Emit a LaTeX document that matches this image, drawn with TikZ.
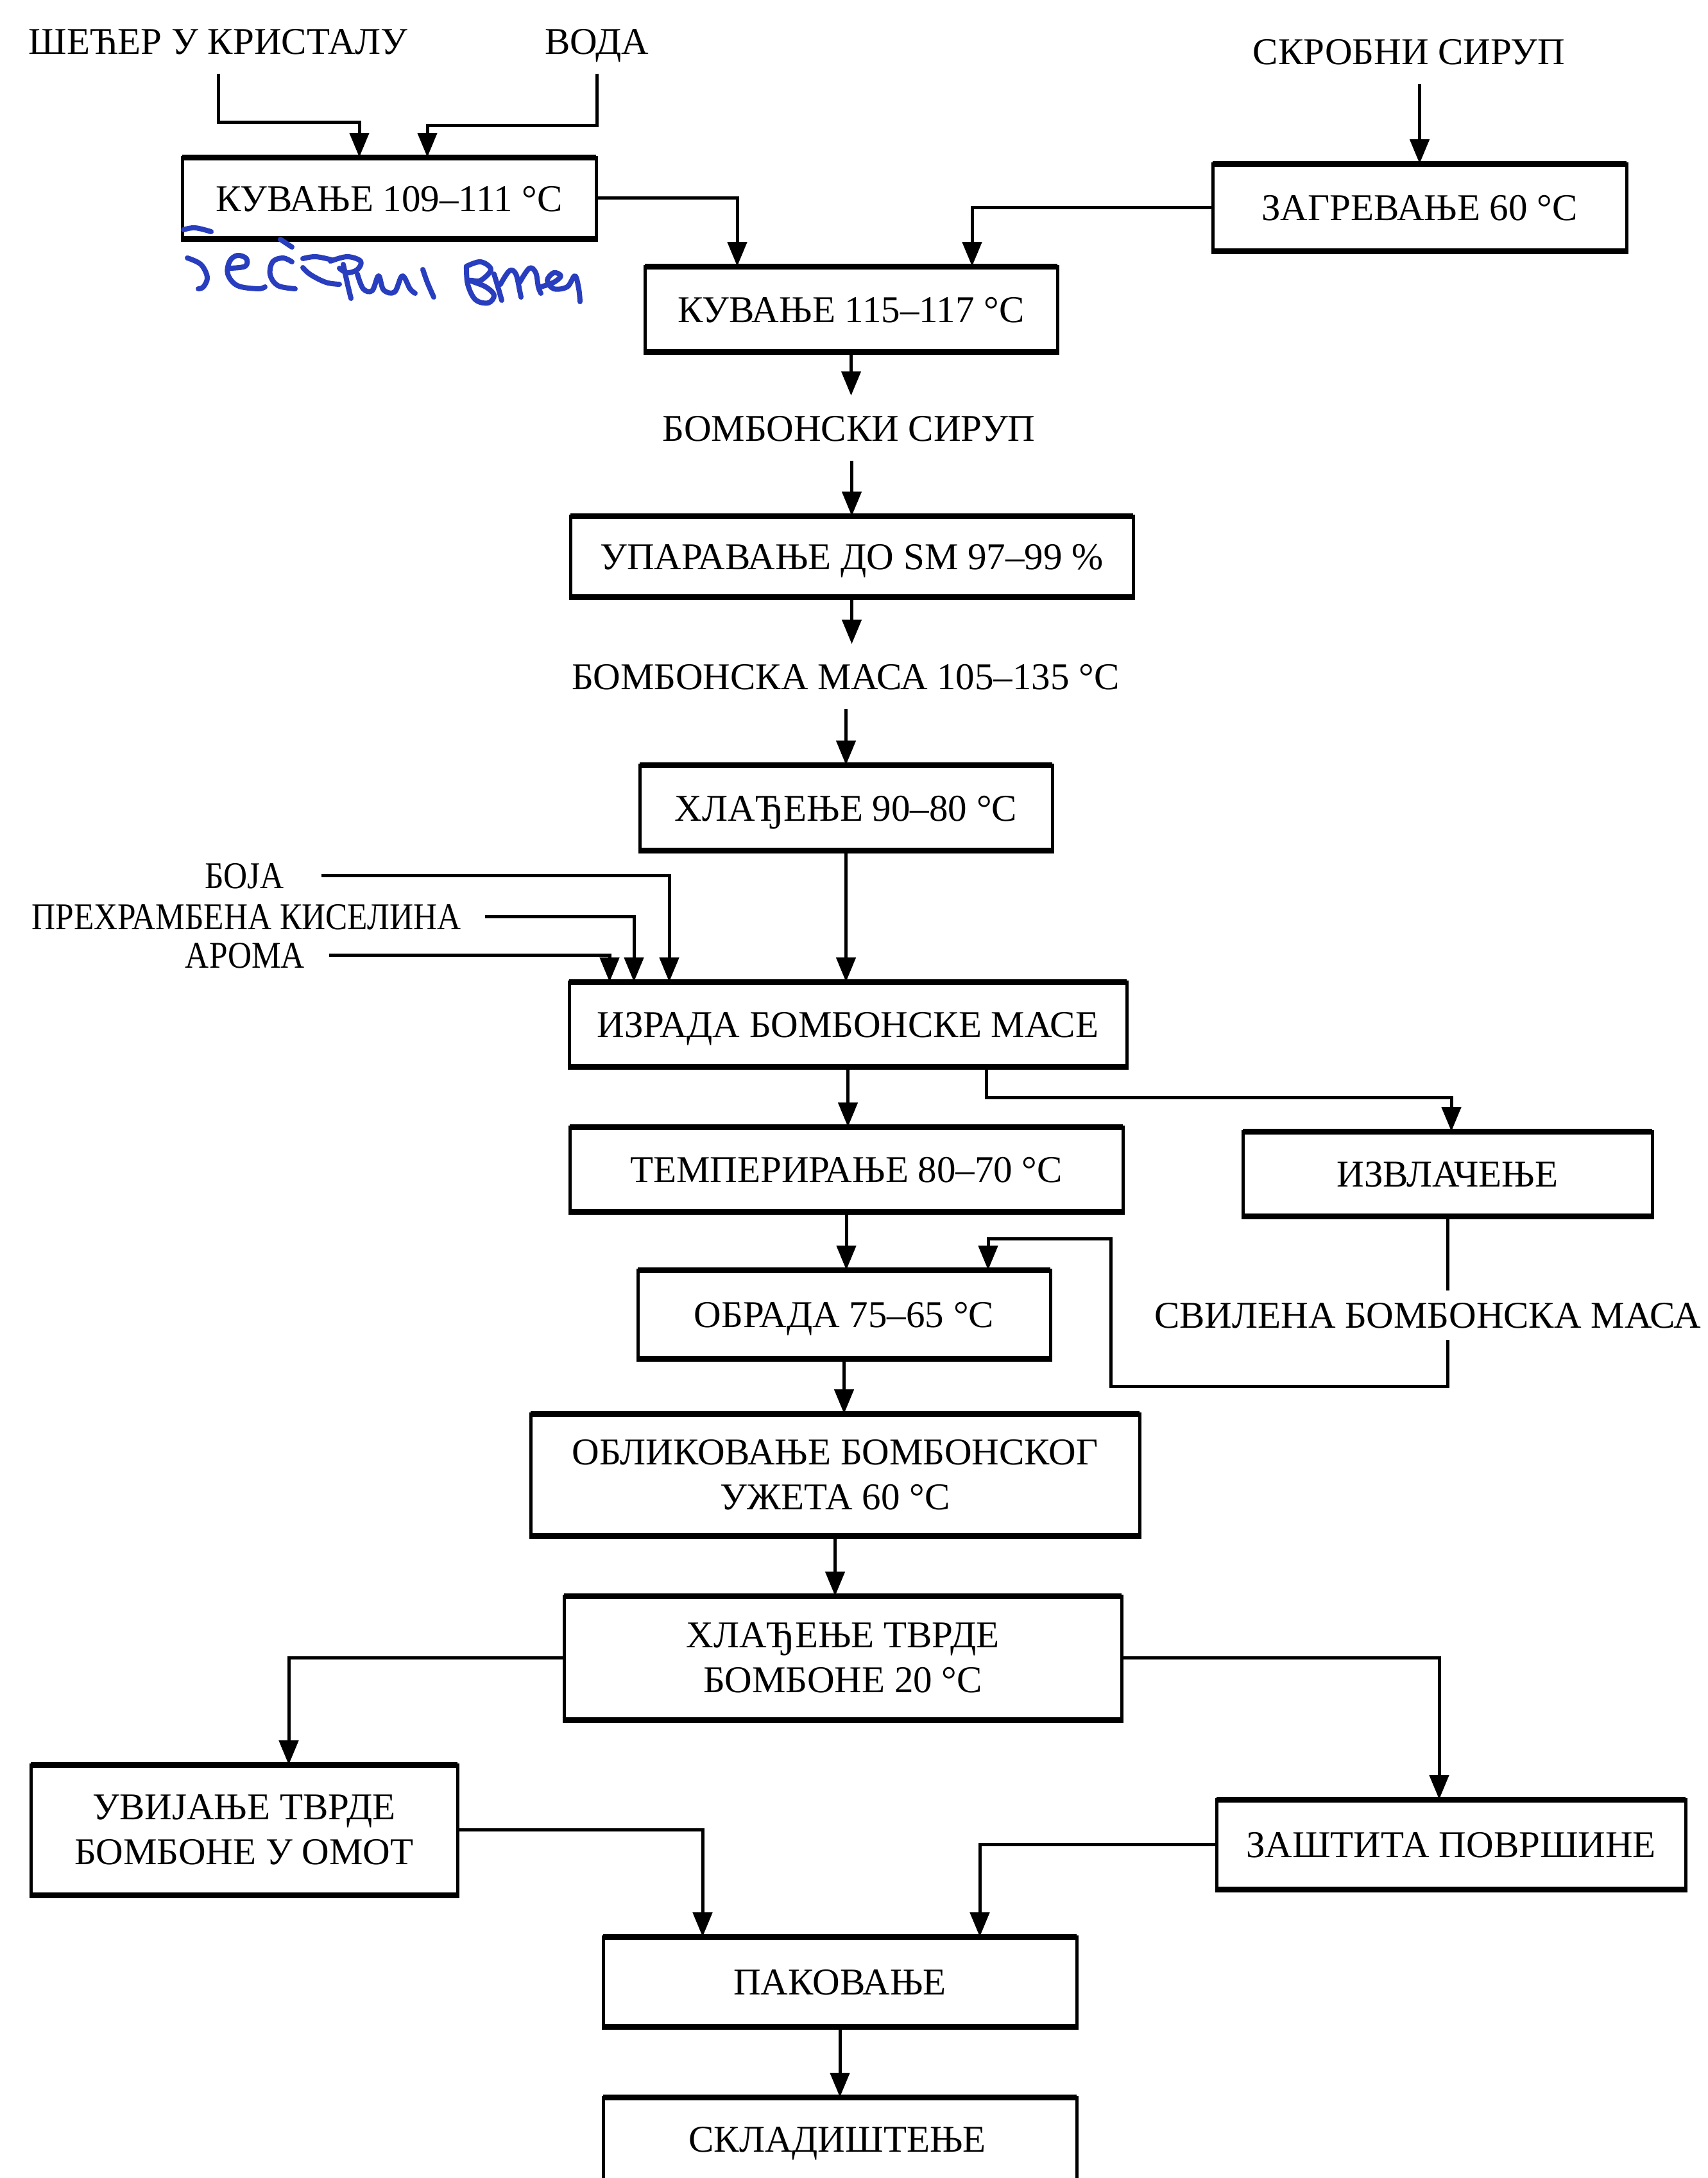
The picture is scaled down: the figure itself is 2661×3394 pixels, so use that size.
\documentclass[tikz,border=0pt]{standalone}
\usepackage{fontspec}
\setmainfont{Liberation Serif}
\newfontfamily\narrowfont[FakeStretch=0.87]{Liberation Serif}
\usetikzlibrary{arrows.meta,calc}
\definecolor{handblue}{RGB}{40,62,190}
\begin{document}
\begin{tikzpicture}[x=1pt,y=-1pt,
  every node/.style={font=\fontsize{59}{70}\selectfont},
  box/.style={draw, line width=5pt, inner sep=0pt, outer sep=0pt, align=center},
  one/.style={text height=41pt, text depth=0pt},
  lbl/.style={inner xsep=30pt, inner ysep=30pt, outer sep=0pt, text height=41pt, text depth=0pt},
  nlbl/.style={lbl, font=\narrowfont\fontsize{59}{70}\selectfont},
  ln/.style={line width=5pt},
  arr/.style={line width=5pt, -{Triangle[length=38pt,width=30pt]}},
  edge/.style={line width=9pt, shorten <=-2.5pt, shorten >=-2.5pt},
  hand/.style={draw=handblue, line width=8pt, line cap=round, line join=round}]
\useasboundingbox (0,0) rectangle (2661,3394);
\clip (0,0) rectangle (2661,3394);
\fill[white] (0,0) rectangle (2661,3394);

% free labels
\node[lbl] (sugar)  at (340,64)   {ШЕЋЕР У КРИСТАЛУ};
\node[lbl] (water)  at (930,64)   {ВОДА};
\node[lbl] (starch) at (2196,80)  {СКРОБНИ СИРУП};
\node[lbl] (syrup)  at (1323,667) {БОМБОНСКИ СИРУП};
\node[lbl] (mass)   at (1318,1054) {БОМБОНСКА МАСА 105–135 °C};
\node[nlbl] (boja)   at (381,1364) {БОЈА};
\node[nlbl] (acid)   at (384,1428) {ПРЕХРАМБЕНА КИСЕЛИНА};
\node[nlbl] (aroma)  at (382,1488) {АРОМА};
\node[lbl, inner ysep=18pt] (silk) at (2225,2049) {СВИЛЕНА БОМБОНСКА МАСА};

% boxes
\node[box, one, minimum width=645pt, minimum height=127pt] (b1)    at (606.5,308.5) {КУВАЊЕ 109–111 °C};
\node[box, one, minimum width=645pt, minimum height=136pt] (heat)  at (2212.5,323)  {ЗАГРЕВАЊЕ 60 °C};
\node[box, one, minimum width=643pt, minimum height=133pt] (b2)    at (1326.5,481.5) {КУВАЊЕ 115–117 °C};
\node[box, one, minimum width=877pt, minimum height=126pt] (evap)  at (1327.5,867)  {УПАРАВАЊЕ ДО SM 97–99 \%};
\node[box, one, minimum width=643pt, minimum height=133pt] (cool)  at (1318.5,1258.5) {ХЛАЂЕЊЕ 90–80 °C};
\node[box, one, minimum width=869pt, minimum height=132pt] (make)  at (1321.5,1596) {ИЗРАДА БОМБОНСКЕ МАСЕ};
\node[box, one, minimum width=862pt, minimum height=132pt] (temp)  at (1319,1822)   {ТЕМПЕРИРАЊЕ 80–70 °C};
\node[box, one, minimum width=638pt, minimum height=132pt] (pull)  at (2256,1829)   {ИЗВЛАЧЕЊЕ};
\node[box, one, minimum width=643pt, minimum height=138pt] (proc)  at (1315.5,2048) {ОБРАДА 75–65 °C};
\node[box, minimum width=949pt, minimum height=190pt] (shape) at (1301.5,2298) {ОБЛИКОВАЊЕ БОМБОНСКОГ\\УЖЕТА 60 °C};
\node[box, minimum width=869pt, minimum height=193pt] (hard)  at (1313.5,2583.5) {ХЛАЂЕЊЕ ТВРДЕ\\БОМБОНЕ 20 °C};
\node[box, minimum width=665pt, minimum height=203pt] (wrap)  at (380.5,2851.5) {УВИЈАЊЕ ТВРДЕ\\БОМБОНЕ У ОМОТ};
\node[box, one, minimum width=731pt, minimum height=140pt] (prot)  at (2261.5,2874) {ЗАШТИТА ПОВРШИНЕ};
\node[box, one, minimum width=738pt, minimum height=140pt] (pack)  at (1309,3088)   {ПАКОВАЊЕ};
\node[box, minimum width=738pt, minimum height=170pt, anchor=north] (store) at (1309,3268) {};
\node[lbl] (storeT) at (1305,3333) {СКЛАДИШТЕЊЕ};

% heavier horizontal edges of the boxes
\foreach \n in {b1,heat,b2,evap,cool,make,temp,pull,proc,shape,hard,wrap,prot,pack,store}
  \draw[edge] (\n.north west) -- (\n.north east) (\n.south west) -- (\n.south east);

% connectors
\draw[arr] (sugar.south) |- (560,190) -- (560,0 |- b1.north);
\draw[arr] (water.south) |- (666,195) -- (666,0 |- b1.north);
\draw[arr] (starch.south -| heat.north) -- (heat.north);
\draw[arr] (b1.east) -| (1149,0 |- b2.north);
\draw[arr] (heat.west) -| (1515,0 |- b2.north);
\draw[arr] (b2.south) -- (b2.south |- syrup.north);
\draw[arr] (syrup.south -| evap.north) -- (evap.north);
\draw[arr] (evap.south) -- (evap.south |- mass.north);
\draw[arr] (mass.south -| cool.north) -- (cool.north);
\draw[arr] (cool.south) -- (cool.south |- make.north);
\draw[arr] ([xshift=28pt]boja.east) -| (1043,0 |- make.north);
\draw[arr] ([xshift=8pt]acid.east) -| (988,0 |- make.north);
\draw[arr] ([xshift=8pt]aroma.east) -| (950,0 |- make.north);
\draw[arr] (make.south) -- (make.south |- temp.north);
\draw[arr] (1537,0 |- make.south) |- (2262,1710) -- (2262,0 |- pull.north);
\draw[arr] (temp.south) -- (temp.south |- proc.north);
\draw[ln]  (pull.south) -- (pull.south |- silk.north);
\draw[arr] (silk.south -| pull.south) |- (1731,2160) |- (1540,1930) -- (1540,0 |- proc.north);
\draw[arr] (proc.south) -- (proc.south |- shape.north);
\draw[arr] (shape.south) -- (shape.south |- hard.north);
\draw[arr] (hard.west) -| (450,0 |- wrap.north);
\draw[arr] (hard.east) -| (2243,0 |- prot.north);
\draw[arr] (wrap.east) -| (1095,0 |- pack.north);
\draw[arr] (prot.west) -| (1527,0 |- pack.north);
\draw[arr] (pack.south) -- (pack.south |- store.north);

% handwritten note
\draw[hand] plot[smooth, tension=0.6] coordinates {(286,358) (304,355) (329,361)};
\draw[hand] (437,373) -- (455,385);
\draw[hand] plot[smooth, tension=0.6] coordinates {(292,402) (313,412) (323,432) (317,447) (309,450)};
\draw[hand] plot[smooth, tension=0.6] coordinates {(358,418) (382,415) (384,403) (370,398) (358,407) (355,427) (370,445) (402,450) (413,447)};
\draw[hand] plot[smooth, tension=0.6] coordinates {(455,408) (441,402) (425,408) (421,428) (433,445) (460,450)};
\draw[hand] plot[smooth, tension=0.6] coordinates {(472,403) (492,400) (517,405)};
\draw[hand] plot[smooth, tension=0.6] coordinates {(472,417) (484,428) (508,440) (529,443)};
\draw[hand] plot[smooth, tension=0.6] coordinates {(515,407) (541,400) (562,407) (557,420) (541,425) (529,418)};
\draw[hand] plot[smooth, tension=0.6] coordinates {(535,412) (541,440) (547,465)};
\draw[hand] plot[smooth, tension=0.6] coordinates {(557,427) (566,450) (580,453) (590,430) (598,452) (615,455) (627,430) (639,450) (647,457)};
\draw[hand] plot[smooth, tension=0.6] coordinates {(659,420) (666,440) (676,463)};
\draw[hand] plot[smooth, tension=0.6] coordinates {(727,415) (749,408) (765,420) (749,437) (733,437) (757,447) (770,460) (761,472) (741,467) (729,443) (727,415)};
\draw[hand] plot[smooth, tension=0.6] coordinates {(770,427) (776,447) (782,468)};
\draw[hand] plot[smooth, tension=0.6] coordinates {(780,443) (794,422) (804,427) (810,453) (812,463)};
\draw[hand] plot[smooth, tension=0.6] coordinates {(810,440) (825,418) (835,425) (839,447) (843,457)};
\draw[hand] plot[smooth, tension=0.6] coordinates {(843,447) (863,440) (874,430) (863,425) (853,437) (863,450) (884,447) (896,430) (902,450) (904,470)};
\end{tikzpicture}
\end{document}
